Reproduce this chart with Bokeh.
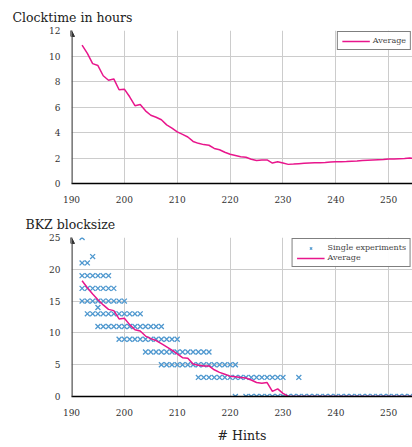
from bokeh.plotting import figure
from bokeh.layouts import column
from bokeh.models import (ColumnDataSource, Legend, LegendItem, Arrow, NormalHead,
                          SingleIntervalTicker, Range1d)
from bokeh.embed import file_html
from bokeh.resources import INLINE

# ---------------- data ----------------
hints = [192, 193, 194, 195, 196, 197, 198, 199, 200, 201, 202, 203, 204, 205, 206,
         207, 208, 209, 210, 211, 212, 213, 214, 215, 216, 217, 218, 219, 220, 221,
         222, 223, 224, 225, 226, 227, 228, 229, 230, 231, 232, 233, 234, 235, 236,
         237, 238, 239, 240, 241, 242, 243, 244, 245, 246, 247, 248, 249, 250, 251,
         252, 253, 254, 255]
clock_avg = [10.85, 10.2, 9.4, 9.25, 8.45, 8.1, 8.2, 7.35, 7.4, 6.8, 6.1, 6.2, 5.7, 5.35, 5.2,
             5.0, 4.6, 4.35, 4.05, 3.85, 3.65, 3.3, 3.15, 3.05, 3.0, 2.75, 2.65, 2.45, 2.3, 2.2,
             2.1, 2.06, 1.9, 1.8, 1.85, 1.85, 1.6, 1.7, 1.6, 1.5, 1.52, 1.55, 1.58, 1.6, 1.62,
             1.63, 1.65, 1.68, 1.7, 1.71, 1.72, 1.74, 1.76, 1.8, 1.82, 1.84, 1.86, 1.88, 1.92, 1.93,
             1.95, 1.97, 2.0, 1.95]
bkz_avg = [18.2, 17.1, 16.1, 15.2, 14.4, 13.7, 13.5, 12.2, 12.3, 11.3, 10.5, 10.3, 9.5, 9.1, 8.8,
           8.3, 7.8, 7.3, 6.7, 6.1, 6.0, 5.1, 4.9, 4.8, 4.8, 4.2, 3.8, 3.5, 3.2, 3.1,
           3.0, 2.9, 2.6, 2.2, 2.1, 2.2, 0.8, 1.2, 0.5, 0.0, 0.0, 0.0, 0.0, 0.0, 0.0,
           0.0, 0.0, 0.0, 0.0, 0.0, 0.0, 0.0, 0.0, 0.0, 0.0, 0.0, 0.0, 0.0, 0.0, 0.0,
           0.0, 0.0, 0.0, 0.0]

# single experiments: blocksize level -> hints where observed
exp_25 = [192]
exp_22 = [194]
exp_21 = [192, 193]
exp_19 = [192, 193, 194, 195, 196, 197]
exp_17 = [192, 193, 194, 195, 196, 197, 198]
exp_15 = [192, 193, 194, 195, 196, 197, 198, 199, 200]
exp_14 = [195]
exp_13 = [193, 194, 195, 196, 197, 198, 199, 200, 201, 202, 203]
exp_11 = [195, 196, 197, 198, 199, 200, 201, 202, 203, 204, 205, 206, 207]
exp_9 = [199, 200, 201, 202, 203, 204, 205, 206, 207, 208, 209, 210]
exp_7 = [204, 205, 206, 207, 208, 209, 210, 211, 212, 213, 214, 215, 216]
exp_5 = [207, 208, 209, 210, 211, 212, 213, 214, 215, 216, 217, 218, 219, 220, 221]
exp_3 = [214, 215, 216, 217, 218, 219, 220, 221, 222, 223, 224, 225, 226, 227, 228, 229, 230, 233]
exp_0 = [221, 223, 224, 225, 226, 227, 228, 229, 230, 231, 232, 233, 234, 235, 236, 237, 238,
         239, 240, 241, 242, 243, 244, 245, 246, 247, 248, 249, 250, 251, 252, 253, 254, 255]
exp_levels = [(25, exp_25), (22, exp_22), (21, exp_21), (19, exp_19), (17, exp_17),
              (15, exp_15), (14, exp_14), (13, exp_13), (11, exp_11), (9, exp_9),
              (7, exp_7), (5, exp_5), (3, exp_3), (0, exp_0)]
exp_x, exp_y = [], []
for lvl, xs in exp_levels:
    exp_x += xs
    exp_y += [lvl] * len(xs)

x_ticks_interval = 10
clock_ticks_interval = 2
bkz_ticks_interval = 5

# ---------------- style ----------------
FONT = "DejaVu Serif"
MAGENTA = "#e8168c"
BLUE = "#4f98cf"
W = 412
X0, X1 = 190, 254.5


def style(p, yint):
    p.outline_line_color = None
    p.background_fill_color = "white"
    p.border_fill_color = "white"
    xt = SingleIntervalTicker(interval=x_ticks_interval, num_minor_ticks=0)
    yt = SingleIntervalTicker(interval=yint, num_minor_ticks=0)
    p.xaxis[0].ticker = xt
    p.yaxis[0].ticker = yt
    p.xgrid[0].ticker = xt
    p.ygrid[0].ticker = yt
    for g in (p.xgrid[0], p.ygrid[0]):
        g.grid_line_color = "#cccccc"
        g.grid_line_width = 1
    for ax in (p.xaxis[0], p.yaxis[0]):
        ax.major_label_text_font = FONT
        ax.major_label_text_font_size = "9px"
        ax.major_label_text_color = "#333333"
        ax.major_tick_line_color = None
        ax.minor_tick_line_color = None
        ax.major_label_standoff = 6
    p.xaxis[0].axis_line_color = "black"
    p.xaxis[0].axis_line_width = 1.5
    p.yaxis[0].axis_line_color = None
    p.yaxis[0].major_label_standoff = 5
    p.title.text_font = FONT
    p.title.text_font_style = "normal"
    p.title.text_font_size = "12.5px"
    p.title.text_color = "#222222"
    p.title.align = "left"
    p.title.standoff = 12


# ---------- top chart ----------
p1 = figure(width=W, height=205, output_backend="svg", toolbar_location=None,
            x_range=Range1d(X0, X1), y_range=Range1d(0, 12),
            min_border_left=71, min_border_right=0, min_border_top=30, min_border_bottom=22,
            title="Clocktime in hours")
style(p1, clock_ticks_interval)
p1.title.offset = -59
r1 = p1.line(hints, clock_avg, line_color=MAGENTA, line_width=1.5)
p1.add_layout(Arrow(end=NormalHead(size=6, fill_color="#333333", line_color="#333333"),
                    x_start=X0, y_start=0, x_end=X0, y_end=12,
                    line_color="#555555", line_width=2.5))
leg1 = Legend(items=[LegendItem(label="Average", renderers=[r1])], location="top_right",
              label_text_font=FONT, label_text_font_size="8px", label_height=8,
              glyph_height=8, glyph_width=28, spacing=0, padding=4, margin=1,
              border_line_color="black", border_line_width=1, label_standoff=3)
p1.add_layout(leg1)

# ---------- bottom chart ----------
p2 = figure(width=W, height=240, output_backend="svg", toolbar_location=None,
            x_range=Range1d(X0, X1), y_range=Range1d(0, 25),
            min_border_left=71, min_border_right=0, min_border_top=32, min_border_bottom=49,
            title="BKZ blocksize", x_axis_label="# Hints")
style(p2, bkz_ticks_interval)
p2.title.offset = -46
p2.xaxis[0].axis_label_text_font = FONT
p2.xaxis[0].axis_label_text_font_style = "normal"
p2.xaxis[0].axis_label_text_font_size = "12.5px"
p2.xaxis[0].axis_label_text_color = "#222222"
p2.xaxis[0].axis_label_standoff = 9
src = ColumnDataSource(dict(x=exp_x, y=exp_y))
rs = p2.scatter("x", "y", source=src, marker="x", size=7, line_color=BLUE, line_width=1.3)
r2 = p2.line(hints, bkz_avg, line_color=MAGENTA, line_width=1.5)
p2.add_layout(Arrow(end=NormalHead(size=6, fill_color="#333333", line_color="#333333"),
                    x_start=X0, y_start=0, x_end=X0, y_end=25,
                    line_color="#555555", line_width=2.5))
leg2 = Legend(items=[LegendItem(label="Single experiments", renderers=[rs]),
                     LegendItem(label="Average", renderers=[r2])], location="top_right",
              label_text_font=FONT, label_text_font_size="8px", label_height=8,
              glyph_height=8, glyph_width=28, spacing=1, padding=4, margin=1,
              border_line_color="black", border_line_width=1, label_standoff=3)
p2.add_layout(leg2)

layout = column(p1, p2, spacing=0)
open("out.html", "w").write(file_html(layout, INLINE))
